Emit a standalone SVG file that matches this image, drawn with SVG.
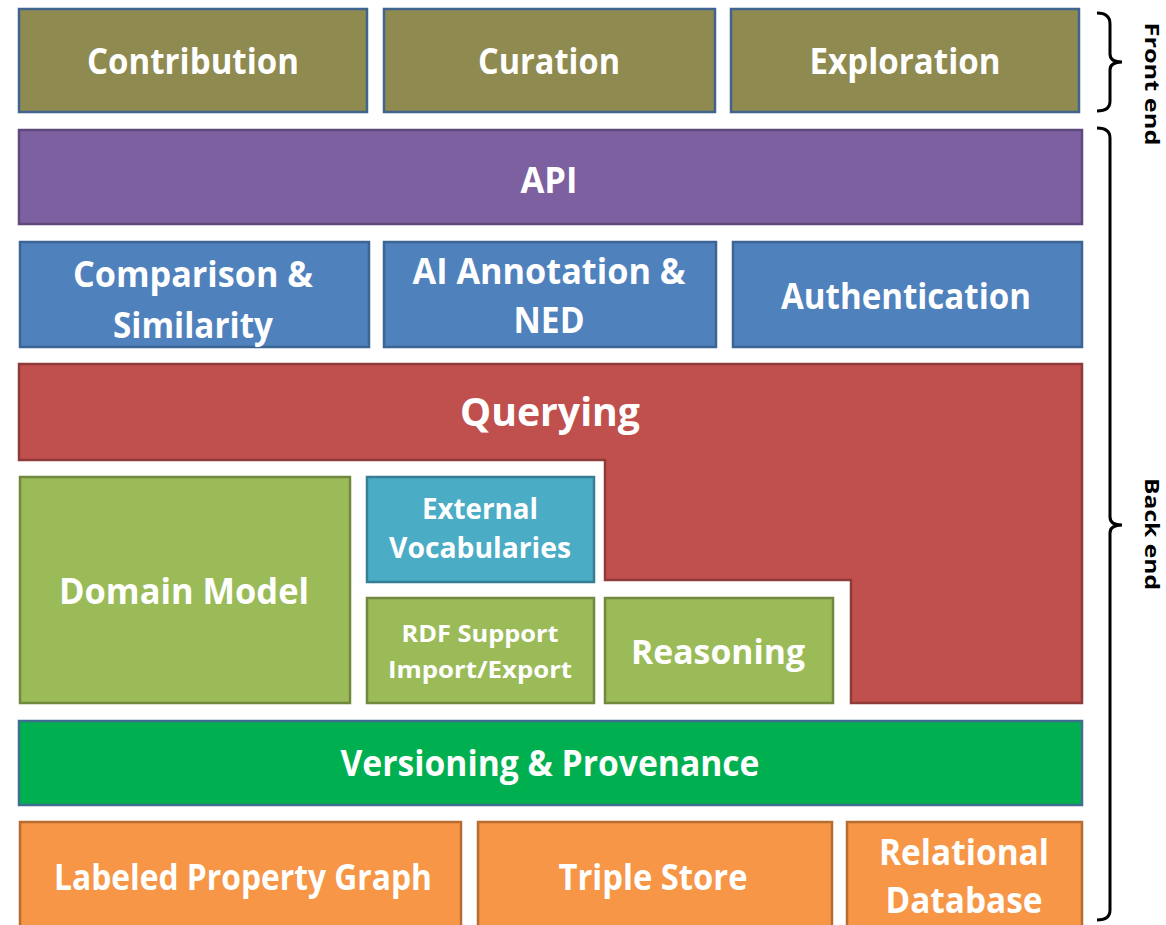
<svg xmlns="http://www.w3.org/2000/svg" width="1166" height="925" viewBox="0 0 1166 925">
<style>
text{font-family:"Open Sans","Liberation Sans",sans-serif;font-weight:bold;fill:#fff;text-anchor:middle}
.b{stroke-width:2.5}
.fe{fill:#8F8A50;stroke:#41648F}
.api{fill:#7D60A0;stroke:#5F4A7D}
.svc{fill:#4F81BD;stroke:#3C6594}
.q{fill:#C0504D;stroke:#8E3B39}
.g{fill:#9BBB59;stroke:#71893F}
.t{fill:#4BACC6;stroke:#357E93}
.v{fill:#00B050;stroke:#3E6F8F}
.o{fill:#F79646;stroke:#B66D31}
.lbl{fill:#000;font-size:20px}
.br{fill:none;stroke:#000;stroke-width:3}
</style>
<rect width="1166" height="925" fill="#fff"/>
<g id="contribution"><rect class="b fe" x="19" y="9" width="348" height="103"/><text x="193" y="74" font-size="36" textLength="212" lengthAdjust="spacingAndGlyphs">Contribution</text></g>
<g id="curation"><rect class="b fe" x="384" y="9" width="331" height="103"/><text x="549" y="74" font-size="36" textLength="142" lengthAdjust="spacingAndGlyphs">Curation</text></g>
<g id="exploration"><rect class="b fe" x="731" y="9" width="348" height="103"/><text x="905" y="74" font-size="36" textLength="191" lengthAdjust="spacingAndGlyphs">Exploration</text></g>
<g id="api"><rect class="b api" x="19" y="130" width="1063" height="94"/><text x="549" y="193" font-size="36" textLength="57" lengthAdjust="spacingAndGlyphs">API</text></g>
<g id="comparison"><rect class="b svc" x="20" y="242" width="349" height="105"/><text x="193" y="287" font-size="36" textLength="240" lengthAdjust="spacingAndGlyphs">Comparison &amp;</text><text x="193" y="338" font-size="36" textLength="160" lengthAdjust="spacingAndGlyphs">Similarity</text></g>
<g id="ai-annotation"><rect class="b svc" x="384" y="242" width="332" height="105"/><text x="549" y="284" font-size="36" textLength="273" lengthAdjust="spacingAndGlyphs">AI Annotation &amp;</text><text x="549" y="333" font-size="36" textLength="71" lengthAdjust="spacingAndGlyphs">NED</text></g>
<g id="authentication"><rect class="b svc" x="733" y="242" width="349" height="105"/><text x="906" y="309" font-size="36" textLength="250" lengthAdjust="spacingAndGlyphs">Authentication</text></g>
<g id="querying"><path class="b q" d="M19,364 H1082 V703 H851 V580 H605 V460 H19 Z"/><text x="550" y="426" font-size="40" textLength="180" lengthAdjust="spacingAndGlyphs">Querying</text></g>
<g id="domain-model"><rect class="b g" x="20" y="477" width="330" height="226"/><text x="184" y="604" font-size="36" textLength="250" lengthAdjust="spacingAndGlyphs">Domain Model</text></g>
<g id="external-vocabularies"><rect class="b t" x="367" y="477" width="227" height="105"/><text x="480" y="519" font-size="28" textLength="116" lengthAdjust="spacingAndGlyphs">External</text><text x="480" y="558" font-size="28" textLength="182" lengthAdjust="spacingAndGlyphs">Vocabularies</text></g>
<g id="rdf-support"><rect class="b g" x="367" y="598" width="227" height="105"/><text x="480" y="642" font-size="24" textLength="157" lengthAdjust="spacingAndGlyphs">RDF Support</text><text x="480" y="678" font-size="24" textLength="184" lengthAdjust="spacingAndGlyphs">Import/Export</text></g>
<g id="reasoning"><rect class="b g" x="605" y="598" width="228" height="105"/><text x="718" y="664" font-size="34" textLength="174" lengthAdjust="spacingAndGlyphs">Reasoning</text></g>
<g id="versioning"><rect class="b v" x="19" y="721" width="1063" height="84"/><text x="550" y="776" font-size="36" textLength="419" lengthAdjust="spacingAndGlyphs">Versioning &amp; Provenance</text></g>
<g id="lpg"><rect class="b o" x="20" y="822" width="441" height="110"/><text x="243" y="890" font-size="36" textLength="378" lengthAdjust="spacingAndGlyphs">Labeled Property Graph</text></g>
<g id="triple-store"><rect class="b o" x="478" y="822" width="354" height="110"/><text x="653" y="890" font-size="36" textLength="189" lengthAdjust="spacingAndGlyphs">Triple Store</text></g>
<g id="relational"><rect class="b o" x="847" y="822" width="235" height="110"/><text x="964" y="865" font-size="36" textLength="170" lengthAdjust="spacingAndGlyphs">Relational</text><text x="964" y="913" font-size="36" textLength="157" lengthAdjust="spacingAndGlyphs">Database</text></g>
<g id="connectors">
<path class="br" d="M1097,13 Q1110,13 1110,24 L1110,54 Q1110,62 1122,62 Q1110,62 1110,70 L1110,101 Q1110,111 1097,111"/>
<path class="br" d="M1097,128 Q1110,128 1110,138 L1110,517 Q1110,525 1122,525 Q1110,525 1110,533 L1110,910 Q1110,920 1097,920"/>
</g>
<g id="front-end-label"><text class="lbl" transform="translate(1145,84) rotate(90)" textLength="123" lengthAdjust="spacingAndGlyphs">Front end</text></g>
<g id="back-end-label"><text class="lbl" transform="translate(1145,534) rotate(90)" textLength="112" lengthAdjust="spacingAndGlyphs">Back end</text></g>
</svg>
